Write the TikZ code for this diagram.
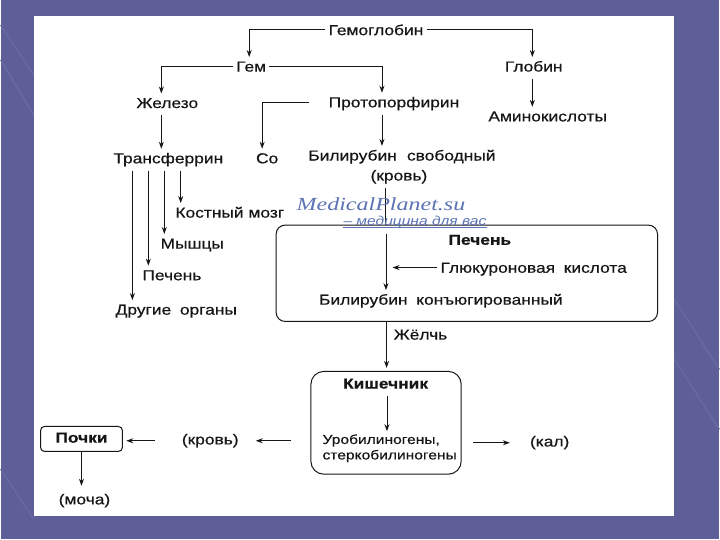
\documentclass[tikz,border=0pt]{standalone}
\usepackage{fontspec}
\setmainfont[FakeStretch=1.2, FakeBold=0.5]{Liberation Sans}
\newfontfamily\wmserif[FakeStretch=1.3]{Liberation Serif}
\newfontfamily\wmsans[FakeStretch=1.2]{Liberation Sans}
\usetikzlibrary{arrows.meta}
\definecolor{slidebg}{HTML}{5E5E98}
\definecolor{slideline}{HTML}{6A6AA4}
\definecolor{wmblue}{HTML}{5C74B4}
\definecolor{ink}{HTML}{161616}
\begin{document}
\begin{tikzpicture}[x=1pt,y=-1pt,
  lbl/.style={inner xsep=3pt, inner ysep=4pt, text=ink, yshift=-1.5pt,
    font=\fontsize{14.5}{16}\selectfont, text height=10.4pt, text depth=3pt},
  boldlbl/.style={lbl, font=\fontsize{14.5}{16}\selectfont\bfseries},
  conn/.style={line width=0.9pt, draw=ink},
  arr/.style={conn, -{Stealth[length=7pt,width=5pt]}},
  box/.style={draw=ink, line width=1pt, inner sep=0pt},
]
% slide background
\fill[slidebg] (0,0) rectangle (720,540);
\foreach \a/\b/\c/\d in {0/25/33/75, 0/60/33/115, 675/300/720/370, 675/360/720/430, 0/470/33/520}
  \draw[slideline, line width=1.2pt] (\a,\b) -- (\c,\d);
\fill[white] (33,16) rectangle (675,517);
\useasboundingbox (0,0) rectangle (720,540);

% nodes
\node[lbl] (hb) at (376,30) {Гемоглобин};
\node[lbl] (gem) at (251,66.5) {Гем};
\node[lbl] (glob) at (534,66.5) {Глобин};
\node[lbl] (zhel) at (167,103) {Железо};
\node[lbl] (proto) at (394,102.3) {Протопорфирин};
\node[lbl] (amino) at (548,116.4) {Аминокислоты};
\node[lbl] (transf) at (168,158.4) {Трансферрин};
\node[lbl] (co) at (267,158.4) {Со};
\node[lbl] (bilf) at (402,155.6) {Билирубин\hspace{0.7em}свободный};
\node[lbl] (krov) at (399,175.6) {(кровь)};
\node[lbl] (kost) at (229.6,212.8) {Костный мозг};
\node[lbl] (mysh) at (192,243.8) {Мышцы};
\node[lbl] (pech1) at (171.6,275.5) {Печень};
\node[lbl] (drug) at (176,310) {Другие\hspace{0.6em}органы};

\node[box, rounded corners=9pt, minimum width=382pt, minimum height=96.5pt] (liver) at (467,273.75) {};
\node[boldlbl] (pech2) at (480,240) {Печень};
\node[lbl] (gluc) at (534,268) {Глюкуроновая\hspace{0.6em}кислота};
\node[lbl] (bilc) at (441,300) {Билирубин\hspace{0.6em}конъюгированный};
\node[lbl] (jel) at (420.6,335) {Жёлчь};

\node[box, rounded corners=13pt, minimum width=150.6pt, minimum height=103pt] (kish) at (386.1,423.5) {};
\node[boldlbl] (kisht) at (385.6,384) {Кишечник};
\node[inner sep=3pt, text=ink, anchor=west, align=left,
  font=\fontsize{13}{15.5}\selectfont] (uro) at (319.3,449) {Уробилиногены,\\стеркобилиногены};
\node[lbl] (kal) at (550,442) {(кал)};
\node[lbl] (krov2) at (210,440) {(кровь)};
\node[boldlbl, draw=ink, line width=1pt, rounded corners=4pt, minimum width=82pt,
  minimum height=25pt, inner sep=0pt] (poch) at (81,438.2) {Почки};
\node[lbl] (mocha) at (84,500) {(моча)};

% connectors
\draw[arr] ([yshift=1.5pt]hb.west) -| ([xshift=-2pt]gem.north);
\draw[arr] ([yshift=1.5pt]hb.east) -| ([xshift=-1.4pt]glob.north);
\draw[arr] ([yshift=1.5pt]gem.west) -| ([xshift=-6pt]zhel.north);
\draw[arr] ([yshift=1.5pt]gem.east) -| ([xshift=-12pt]proto.north);
\draw[arr] ([xshift=-1.4pt]glob.south) -- ([xshift=-1.4pt]glob.south |- amino.north);
\draw[arr] ([xshift=-6pt]zhel.south) -- ([xshift=-6pt]zhel.south |- transf.north);
\draw[arr] ([xshift=-12pt]proto.south) -- ([xshift=-12pt]proto.south |- bilf.north);
\draw[arr] ([xshift=-17pt,yshift=1.5pt]proto.west) -| ([xshift=-5pt]co.north);
\foreach \dx/\tg in {12.4/kost, -4/mysh, -20/pech1, -36/drug}
  \draw[arr] ([xshift=\dx pt]transf.south) -- ([xshift=\dx pt]transf.south |- \tg.north);

\draw[conn] ([xshift=-13.3pt]krov.south) -- ([xshift=-13.3pt]krov.south |- liver.north);
\coordinate (inA) at (386,234);
\draw[arr] (inA) -- (inA |- bilc.north);
\draw[arr, shorten >=6.6pt] ([yshift=1.5pt]gluc.west) -- ([yshift=1.5pt]gluc.west -| inA);
\draw[arr, shorten >=3pt] ([xshift=-80.4pt]liver.south) -- ([xshift=-80.4pt]liver.south |- kish.north);
\draw[arr] ([xshift=1.4pt]kisht.south) -- ([xshift=1.4pt]kisht.south |- uro.north);

\draw[arr, shorten <=11.6pt, shorten >=17pt] (kish.east |- kal.west) -- (kal.west);
\draw[arr, shorten <=19.3pt, shorten >=14pt] (kish.west |- krov2.east) -- (krov2.east);
\draw[arr, shorten <=24pt, shorten >=3.4pt] (krov2.west) -- (krov2.west -| poch.east);
\draw[arr, shorten >=4pt] (poch.south) -- (poch.south |- mocha.north);

% watermark
\node[font=\wmserif\itshape\fontsize{18.5}{21}\selectfont, text=wmblue, inner sep=0pt] (wm1) at (381,205) {MedicalPlanet.su};
\node[font=\wmsans\itshape\fontsize{13}{15}\selectfont, text=wmblue, inner sep=0pt, text depth=0pt] (wm2) at (415,221) {– медицина для вас};
\draw[wmblue, line width=0.6pt] ([yshift=-1.5pt]wm2.south west) -- ([yshift=-1.5pt]wm2.south east);
\end{tikzpicture}
\end{document}
